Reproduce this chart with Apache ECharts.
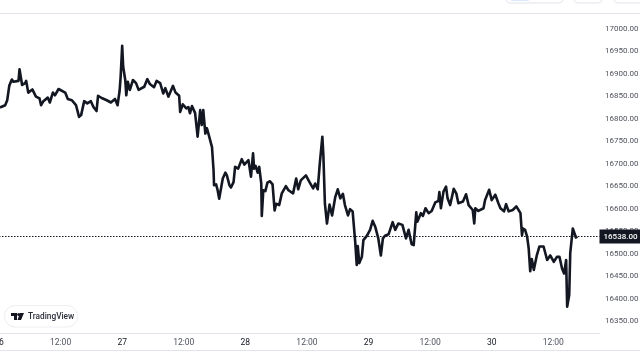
<!DOCTYPE html>
<html>
<head>
<meta charset="utf-8">
<title>BTC chart</title>
<script src="https://cdn.jsdelivr.net/npm/echarts@6/dist/echarts.min.js"></script>
<style>
  html, body { margin: 0; padding: 0; background: #fff; }
  #chart { width: 640px; height: 358px; }
</style>
</head>
<body>
<div id="chart"></div>
<script>
// hours since the 26th 00:00
const hours = [0.2,1.2,1.6,2.0,2.5,2.8,3.8,4.0,4.2,4.5,5.1,5.3,5.7,6.5,7.2,7.9,8.2,8.6,9.5,9.9,
  10.5,10.9,11.6,12.9,13.4,14.2,15.0,15.6,16.0,16.6,17.2,17.9,18.4,19.0,19.3,20.0,21.0,21.3,21.8,22.6,
  23.1,23.5,23.7,24.0,24.2,24.6,24.8,25.1,25.5,26.1,26.7,27.2,28.3,28.9,29.4,30.2,30.7,31.4,32.0,32.4,
  33.0,33.9,34.4,35.1,35.3,35.8,36.5,36.9,37.2,37.6,38.2,38.7,39.0,39.2,39.5,39.8,40.2,40.5,40.8,41.1,41.5,
  41.8,41.9,42.3,42.6,42.9,43.2,43.6,44.1,44.4,44.9,45.2,45.7,46.0,46.6,47.3,47.8,48.6,49.1,49.5,49.7,
  50.0,50.4,50.7,51.1,51.2,51.5,51.9,52.3,52.8,53.3,53.7,54.0,54.6,55.1,55.9,56.4,57.3,57.9,58.3,58.8,
  59.8,60.5,61.2,61.6,62.1,62.5,63.0,63.2,63.5,63.9,64.4,64.9,65.5,66.0,66.5,67.0,67.4,68.0,68.4,68.9,
  69.4,69.7,69.9,70.2,70.7,71.0,71.7,72.3,72.8,73.3,73.9,74.4,74.8,75.2,75.9,76.7,77.2,77.8,78.6,79.3,
  79.8,80.4,80.8,81.3,81.5,82.2,82.6,83.1,83.7,84.3,85.0,85.6,85.8,86.1,86.6,87.1,87.4,87.9,88.6,89.1,
  89.5,90.4,91.0,91.5,92.3,92.6,92.8,93.4,94.4,94.7,95.5,96.0,96.7,97.3,97.7,98.4,98.8,99.3,100.1,100.8,
  101.6,101.9,102.1,102.5,102.9,103.2,103.5,103.8,104.2,104.8,105.3,106.1,106.8,107.4,108.1,108.7,109.2,
  109.7,110.1,110.5,110.7,111.1,111.3,111.8,112.1,112.4,112.7];

const prices = [16825,16830,16841,16873,16887,16882,16884,16910,16908,16875,16879,16884,16858,16865,16849,16845,16830,16838,16847,16836,
  16858,16852,16866,16858,16844,16841,16830,16804,16808,16839,16834,16839,16826,16817,16851,16846,16841,16845,16836,16844,
  16830,16862,16893,16962,16915,16886,16852,16882,16864,16886,16879,16864,16871,16888,16877,16870,16884,16879,16856,16868,
  16849,16873,16858,16851,16815,16832,16823,16826,16812,16828,16813,16760,16763,16819,16786,16819,16767,16779,16767,16769,16737,
  16686,16652,16654,16641,16622,16621,16667,16680,16674,16652,16647,16659,16693,16689,16710,16698,16708,16671,16723,16689,
  16695,16680,16693,16656,16584,16641,16639,16658,16661,16654,16596,16611,16608,16634,16650,16641,16634,16667,16643,16663,
  16674,16659,16645,16656,16643,16700,16760,16719,16611,16567,16609,16585,16625,16643,16623,16633,16608,16585,16599,16594,
  16527,16475,16517,16479,16493,16530,16540,16553,16573,16560,16534,16496,16534,16540,16543,16570,16553,16567,16564,16534,
  16553,16521,16519,16592,16571,16590,16584,16601,16590,16595,16614,16617,16637,16601,16638,16649,16623,16608,16644,16634,
  16612,16616,16632,16608,16597,16567,16601,16595,16601,16619,16642,16619,16631,16612,16601,16594,16610,16594,16597,16605,
  16590,16541,16556,16553,16538,16512,16461,16488,16464,16497,16516,16516,16486,16496,16482,16493,16493,
  16467,16456,16486,16382,16408,16501,16556,16558,16536,16538];

const lastPrice = 16538;
const priceTicks = [16350,16400,16450,16500,16550,16600,16650,16700,16750,16800,16850,16900,16950,17000];
const dayLabels = { 0: '26', 24: '27', 48: '28', 72: '29', 96: '30' };

const border = '#e0e3eb';
const ink = '#131722';
const grey = '#50535e';

const chart = echarts.init(document.getElementById('chart'), null, { renderer: 'canvas' });

chart.setOption({
  animation: false,
  backgroundColor: '#fff',
  grid: { left: -1, right: 40.5, top: 13.5, bottom: 24.5, outerBoundsMode: 'none' },
  xAxis: {
    type: 'value',
    min: 0,
    max: 117,
    interval: 12,
    axisLine: { show: true, lineStyle: { color: border, width: 1 } },
    axisTick: { show: false },
    splitLine: { show: false },
    axisLabel: {
      margin: 5,
      fontFamily: 'Roboto',
      fontSize: 8.5,
      showMinLabel: true,
      showMaxLabel: false,
      hideOverlap: false,
      formatter: function (v) {
        return dayLabels[v] ? '{day|' + dayLabels[v] + '}' : '{time|12:00}';
      },
      rich: {
        day: { color: ink, fontFamily: 'Roboto', fontSize: 8.5 },
        time: { color: grey, fontFamily: 'Roboto', fontSize: 8.5 }
      }
    }
  },
  yAxis: {
    type: 'value',
    position: 'right',
    min: 16322.6,
    max: 17033.8,
    axisLine: { show: true, lineStyle: { color: border, width: 1 } },
    axisTick: { show: false },
    splitLine: { show: false },
    axisLabel: {
      customValues: priceTicks,
      margin: 5.5,
      color: grey,
      fontFamily: 'Roboto',
      fontSize: 8,
      formatter: function (v) { return v.toFixed(2); }
    }
  },
  series: [{
    type: 'line',
    data: hours.map(function (h, i) { return [h, prices[i]]; }),
    showSymbol: false,
    lineStyle: { color: ink, width: 2.6, join: 'round' },
    markLine: {
      silent: true,
      symbol: 'none',
      animation: false,
      lineStyle: { color: ink, width: 1, type: [1.5, 1.5] },
      label: {
        position: 'end',
        distance: 0,
        formatter: lastPrice.toFixed(2),
        color: '#fff',
        backgroundColor: ink,
        fontFamily: 'Roboto',
        fontSize: 8,
        fontWeight: 500,
        width: 37,
        height: 14,
        lineHeight: 14,
        padding: [0, 0, 0, 4],
        align: 'left'
      },
      data: [{ yAxis: lastPrice }]
    }
  }],
  graphic: [
    // page frame lines
    { type: 'line', silent: true, shape: { x1: 0, y1: 13.5, x2: 640, y2: 13.5 }, style: { stroke: border, lineWidth: 1 } },
    { type: 'line', silent: true, shape: { x1: 0, y1: 350.5, x2: 640, y2: 350.5 }, style: { stroke: border, lineWidth: 1 } },
    // toolbar buttons cut off by the top edge
    { type: 'rect', silent: true, shape: { x: 505.5, y: -10, width: 58, height: 13, r: 5 }, style: { fill: '#fff', stroke: border, lineWidth: 1 } },
    { type: 'rect', silent: true, shape: { x: 510, y: -10, width: 20, height: 11, r: 3 }, style: { fill: '#dbe8fb' } },
    { type: 'rect', silent: true, shape: { x: 573.5, y: -10, width: 29, height: 13, r: 5 }, style: { fill: '#fff', stroke: border, lineWidth: 1 } },
    { type: 'rect', silent: true, shape: { x: 613.5, y: -10, width: 40, height: 13, r: 5 }, style: { fill: '#fff', stroke: border, lineWidth: 1 } },
    // TradingView badge
    { type: 'rect', silent: true, shape: { x: 4.5, y: 305.5, width: 73, height: 21.5, r: 10.5 }, style: { fill: '#fff', stroke: '#eceef2', lineWidth: 1 } },
    { type: 'polygon', silent: true, shape: { points: [[11, 313], [17, 313], [17, 320], [14, 320], [14, 316], [11, 316]] }, style: { fill: ink } },
    { type: 'polygon', silent: true, shape: { points: [[20, 313], [24, 313], [21, 320], [17.5, 320]] }, style: { fill: ink } },
    { type: 'circle', silent: true, shape: { cx: 18.7, cy: 314.5, r: 1.5 }, style: { fill: ink } },
    { type: 'text', silent: true, style: { x: 28, y: 316.5, text: 'TradingView', fill: '#2a2e39', font: '500 8.3px Roboto', textVerticalAlign: 'middle' } }
  ]
});
</script>
</body>
</html>
